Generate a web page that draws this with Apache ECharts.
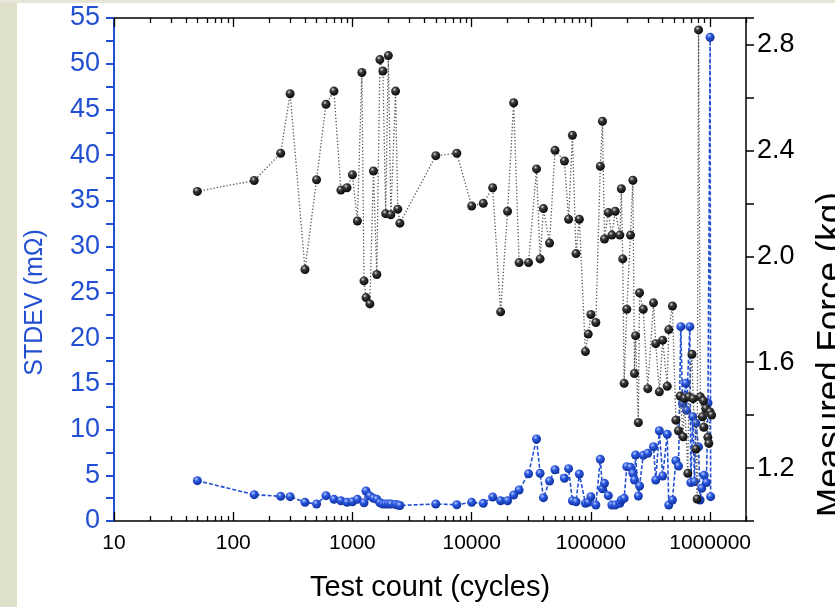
<!DOCTYPE html>
<html><head><meta charset="utf-8">
<script src="https://cdn.jsdelivr.net/npm/echarts@6/dist/echarts.min.js"></script>
<style>html,body{margin:0;padding:0;background:#fff}#c{width:835px;height:607px}</style>
</head><body><div id="c"></div>
<script>
// ---- data ----
const stdevCycles = [50,150,250,300,400,500,600,700,800,900,1000,1100,1250,1300,1400,1500,1600,1700,1800,1900,2000,2100,2300,2400,2500,5000,7500,10000,12500,15000,17500,20000,22500,25000,30000,35000,37500,40000,45000,50000,60000,65000,70000,75000,80000,90000,95000,100000,110000,120000,125000,130000,140000,150000,160000,175000,180000,190000,200000,215000,225000,232000,237000,250000,256000,275000,300000,335000,350000,375000,400000,437000,450000,483000,516000,543000,568000,586000,626000,633000,676000,689000,716000,740000,759000,800000,824000,850000,891000,931000,960000,1000000,1010000];
const stdevValues = [4.41,2.88,2.70,2.66,2.04,1.86,2.77,2.37,2.22,2.04,2.11,2.37,2.00,3.28,2.73,2.48,2.37,2.00,1.86,1.86,1.86,1.86,1.80,1.75,1.70,1.86,1.78,2.04,1.93,2.62,2.22,2.22,2.84,3.39,5.17,8.97,5.21,2.55,4.37,5.61,4.67,5.72,2.22,2.11,5.14,1.93,2.04,2.66,1.75,6.75,3.53,4.12,2.77,1.75,1.75,1.93,2.30,2.48,5.94,5.87,5.21,4.48,7.22,2.73,3.83,7.18,7.40,8.12,4.48,9.87,4.92,9.48,1.75,2.30,6.59,6.01,21.25,12.87,15.06,12.10,21.25,4.20,11.40,4.30,10.70,8.10,2.30,3.58,5.00,4.20,12.90,52.90,2.66];

const forceCycles = [50,150,250,300,400,500,600,700,800,900,1000,1100,1200,1250,1300,1400,1500,1600,1700,1800,1900,2000,2100,2300,2400,2500,5000,7500,10000,12500,15000,17500,20000,22500,25000,30000,35000,37500,40000,45000,50000,60000,65000,70000,75000,80000,90000,95000,100000,110000,120000,125000,130000,140000,150000,160000,175000,180000,185000,190000,200000,215000,225000,232000,237000,250000,256000,275000,300000,335000,350000,375000,400000,437000,450000,483000,516000,543000,561000,594000,610000,650000,662000,705000,720000,760000,778000,800000,828000,862000,880000,885000,920000,957000,975000,1000000,1030000];
const forceValues = [2.245,2.286,2.389,2.614,1.950,2.289,2.574,2.624,2.250,2.259,2.308,2.133,2.694,1.907,1.844,1.820,2.322,1.931,2.743,2.700,2.161,2.758,2.157,2.624,2.178,2.125,2.380,2.389,2.190,2.200,2.259,1.790,2.170,2.580,1.976,1.976,2.330,1.990,2.180,2.050,2.400,2.360,2.140,2.457,2.010,2.140,1.640,1.706,1.780,1.750,2.340,2.510,2.065,2.165,2.080,2.170,2.080,2.255,1.990,1.520,1.800,2.080,2.287,1.557,1.700,1.372,1.862,1.800,1.500,1.824,1.670,1.488,1.683,1.509,1.723,1.812,1.381,1.341,1.472,1.318,1.463,1.180,1.469,1.630,1.462,1.272,1.083,2.855,1.469,1.394,1.454,1.354,1.425,1.316,1.293,1.412,1.400];

const xMin = 10, xMax = 2000000;
const xMajorTicks = [10,100,1000,10000,100000,1000000];
const xMinorTicks = [];
xMajorTicks.forEach(d => { for (let k = 2; k <= 9; k++) { if (k * d <= xMax) xMinorTicks.push(k * d); } });
const rightTickLabels = ['1.2','1.6','2.0','2.4','2.8'];

const BLUE = '#2350d2';
const FONT = '"Liberation Sans", Arial, sans-serif';
const lg = v => Math.log10(v);

const chart = echarts.init(document.getElementById('c'), null, {renderer: 'canvas'});

const blueBall = {type:'radial', x:0.38, y:0.32, r:0.75, colorStops:[{offset:0,color:'#b9cbff'},{offset:0.35,color:'#2b58e0'},{offset:1,color:'#0b2a92'}]};
const blackBall = {type:'radial', x:0.38, y:0.32, r:0.75, colorStops:[{offset:0,color:'#d8d8d8'},{offset:0.3,color:'#3a3a3a'},{offset:1,color:'#000'}]};

// decoration axes in log10 space (same mapping as the log axis)
function tickAxis(pos, ticks, len, showLine) {
  return {type:'value', min:lg(xMin), max:lg(xMax), position:pos, gridIndex:0,
    axisLine:{show:showLine, onZero:false, lineStyle:{color:'#000', width:1.5}},
    axisTick:{show:true, inside:true, length:len, customValues:ticks.map(lg), lineStyle:{color:'#000', width:1.3}},
    axisLabel:{show:false}, splitLine:{show:false}, minorTick:{show:false}};
}

const option = {
  animation: false,
  backgroundColor: '#ffffff',
  graphic: [
    {type:'rect', left:0, top:0, shape:{width:17, height:607}, style:{fill:'#dfe0ca'}, silent:true, z:-10},
    {type:'rect', left:0, top:0, shape:{width:835, height:3}, style:{fill:'#e6e4d4'}, silent:true, z:-10}
  ],
  grid: {left:114, right:89, top:18, bottom:86, containLabel:false, outerBoundsMode:'none'},
  xAxis: [
    {type:'log', logBase:10, min:xMin, max:xMax, position:'bottom', gridIndex:0,
      axisLine:{show:true, onZero:false, lineStyle:{color:'#000', width:1.5}},
      axisTick:{show:false},
      axisLabel:{show:true, customValues:xMajorTicks, color:'#000', fontSize:21, fontFamily:FONT, margin:12,
        formatter: v => String(Math.round(v))},
      splitLine:{show:false}, minorTick:{show:false},
      name:'Test count (cycles)', nameLocation:'middle', nameGap:52,
      nameTextStyle:{color:'#000', fontSize:29, fontFamily:FONT}
    },
    tickAxis('bottom', xMajorTicks, 9, false),
    tickAxis('bottom', xMinorTicks, 5, false),
    tickAxis('top', xMajorTicks, 9, true),
    tickAxis('top', xMinorTicks, 5, false)
  ],
  yAxis: [
    {type:'value', position:'left', min:0, max:55, interval:2.5,
      axisLine:{show:true, onZero:false, lineStyle:{color:BLUE, width:2}},
      axisTick:{show:true, inside:false, length:8, lineStyle:{color:BLUE, width:2}},
      axisLabel:{color:BLUE, fontSize:27, fontFamily:FONT, margin:14,
        formatter: v => (Math.abs(v % 5) < 1e-6 ? String(Math.round(v)) : '')},
      splitLine:{show:false},
      name:'STDEV (mΩ)', nameLocation:'middle', nameGap:66,
      nameTextStyle:{color:BLUE, fontSize:25, fontFamily:FONT, padding:[0,66,0,0]}
    },
    {type:'value', position:'right', min:1.0, max:2.9, interval:0.2,
      axisLine:{show:true, onZero:false, lineStyle:{color:'#000', width:1.5}},
      axisTick:{show:true, inside:false, length:8, lineStyle:{color:'#000', width:1.5}},
      axisLabel:{color:'#000', fontSize:27, fontFamily:FONT, margin:11,
        formatter: v => { const s = (Math.round(v * 10) / 10).toFixed(1); return rightTickLabels.indexOf(s) >= 0 ? s : ''; }},
      splitLine:{show:false},
      name:'Measured Force (kg)', nameLocation:'middle', nameGap:68,
      nameTextStyle:{color:'#000', fontSize:35, fontFamily:FONT, padding:[0,170,0,0]}
    }
  ],
  series: [
    {type:'line', name:'STDEV', xAxisIndex:0, yAxisIndex:0,
      data: stdevCycles.map((c, i) => [c, stdevValues[i]]),
      symbol:'circle', symbolSize:9, showSymbol:true,
      lineStyle:{color:BLUE, width:1.6, type:[4,2]},
      itemStyle:{color:blueBall, borderWidth:0}, z:2},
    {type:'line', name:'Force', xAxisIndex:0, yAxisIndex:1,
      data: forceCycles.map((c, i) => [c, forceValues[i]]),
      symbol:'circle', symbolSize:9, showSymbol:true,
      lineStyle:{color:'#555', width:1.3, type:[1.3,2]},
      itemStyle:{color:blackBall, borderWidth:0}, z:3}
  ]
};
chart.setOption(option);
</script></body></html>
